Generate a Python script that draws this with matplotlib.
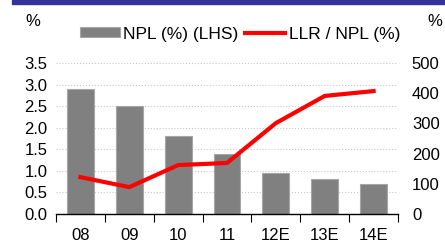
import matplotlib.pyplot as plt
import numpy as np
from matplotlib.patches import Rectangle

plt.rcParams['font.family'] = ['Liberation Sans', 'DejaVu Sans']

years = ["08", "09", "10", "11", "12E", "13E", "14E"]
npl = [2.9, 2.51, 1.8, 1.39, 0.95, 0.82, 0.7]
llr_npl = [122, 89, 162, 169, 301, 391, 407]

fig = plt.figure(figsize=(4.45, 2.44), dpi=100)
# top band
fig.patches.append(Rectangle((12 / 445, 1 - 4 / 244), 1, 4 / 244, transform=fig.transFigure,
                             color="#333399", zorder=0))

ax = fig.add_axes([56 / 445, 1 - 214 / 244, 342 / 445, 151 / 244])
x = np.arange(len(years))
ax.bar(x, npl, width=0.55, color="#808080", edgecolor="#a6a6a6", linewidth=0.8,
       label="NPL (%) (LHS)", zorder=2)
ax.set_xlim(-0.5, len(years) - 0.5)
ax.set_ylim(0, 3.5)
ax.set_yticks(np.arange(0, 3.51, 0.5))
ax.set_yticklabels([f"{v:.1f}" for v in np.arange(0, 3.51, 0.5)])
ax.grid(axis="y", color="#c8c8c8", linestyle=":", linewidth=0.8, zorder=0)
ax.set_axisbelow(True)
for s in ["top", "right", "left"]:
    ax.spines[s].set_visible(False)
ax.spines["bottom"].set_color("black")
ax.spines["bottom"].set_linewidth(1)
ax.set_xticks(np.arange(-0.5, len(years), 1))
ax.set_xticklabels([])
ax.set_xticks(x, minor=True)
ax.set_xticklabels(years, minor=True)
ax.tick_params(axis="x", which="major", length=6, color="black", direction="out")
ax.tick_params(axis="x", which="minor", length=0, labelsize=12, pad=10)
ax.tick_params(axis="y", length=0, labelsize=12, pad=6)

ax2 = ax.twinx()
ax2.plot(x, llr_npl, color="#ff0000", linewidth=3, label="LLR / NPL (%)", zorder=3)
ax2.set_ylim(0, 500)
ax2.set_yticks(np.arange(0, 501, 100))
for s in ["top", "right", "left", "bottom"]:
    ax2.spines[s].set_visible(False)
ax2.tick_params(axis="y", length=0, labelsize=12, pad=10)

fig.text(33 / 445, 1 - 21 / 244, "%", fontsize=12, ha="center", va="center")
fig.text(435 / 445, 1 - 21 / 244, "%", fontsize=12, ha="center", va="center")

h1, l1 = ax.get_legend_handles_labels()
h2, l2 = ax2.get_legend_handles_labels()
fig.legend(h1 + h2, l1 + l2, loc="center", bbox_to_anchor=(240 / 445, 1 - 34 / 244),
           ncol=2, frameon=False, fontsize=12.5, handlelength=2.3, handleheight=0.5,
           handletextpad=0.2, columnspacing=0.4, borderaxespad=0)

fig.savefig("out.png", dpi=100)
